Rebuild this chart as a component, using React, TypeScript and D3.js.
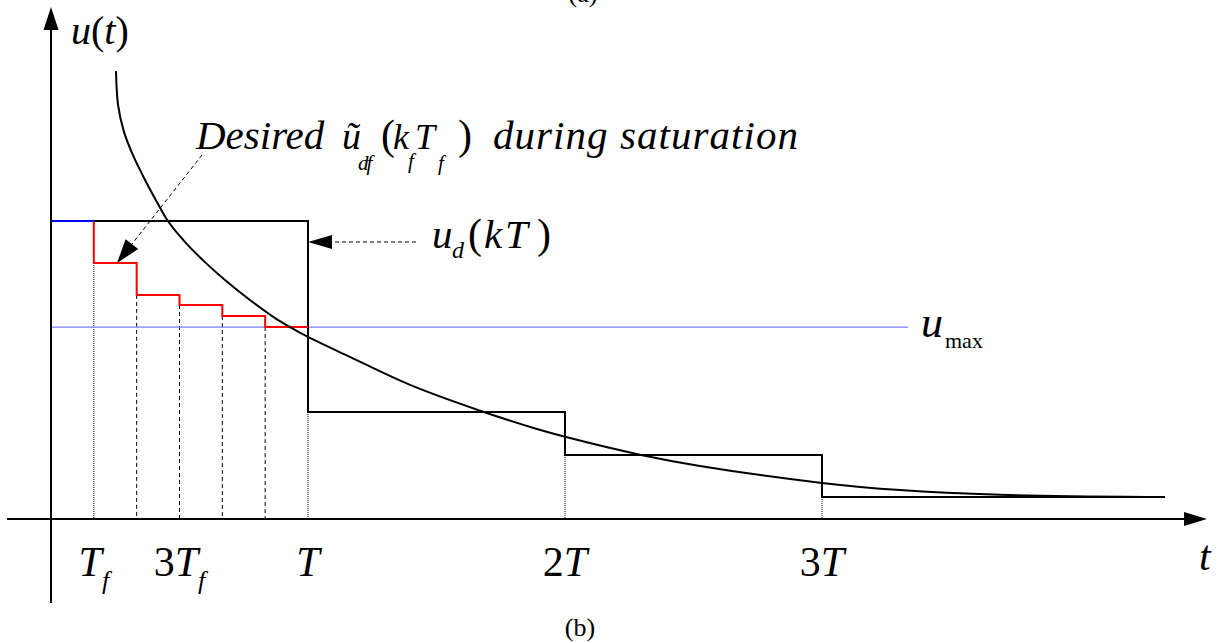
import React from 'react';
import * as d3 from 'd3';

// ---- data (time in units of T, value normalised so that u_d(0) = 1) ----
const curveT = [0.253, 0.261, 0.284, 0.319, 0.370, 0.412, 0.455, 0.521, 0.599, 0.677, 0.774, 0.872, 0.930, 1.000, 1.163, 1.397, 1.661, 1.891, 2.004, 2.296, 2.525, 3.000, 3.304, 3.693, 4.261];
const curveU = [1.503, 1.389, 1.299, 1.221, 1.131, 1.064, 1.000, 0.930, 0.862, 0.802, 0.735, 0.674, 0.644, 0.611, 0.544, 0.450, 0.366, 0.302, 0.275, 0.215, 0.178, 0.121, 0.097, 0.081, 0.074];

const udStarts = [0, 1, 2, 3];
const udLevels = [1.0, 0.359, 0.215, 0.074];
const udEnd = 4.335;

const fineStarts = [1 / 6, 2 / 6, 3 / 6, 4 / 6, 5 / 6];
const fineLevels = [0.859, 0.752, 0.718, 0.681, 0.644];
const fineEnd = 1;
const firstFineLevel = 1.0;

const uMax = 0.644;
const uMaxEnd = 3.335;

const dashedGuides = [2 / 6, 3 / 6, 4 / 6, 5 / 6];
const tickValues = [1 / 6, 3 / 6, 1, 2, 3];
const tickPre = ['', '3', '', '2', '3'];
const tickSub = ['f', 'f', '', '', ''];

const xMax = 4.498;
const yMin = -0.282;
const yMax = 1.718;

const F = 'Liberation Serif';

function T(props: any) {
  const { children, ...rest } = props;
  return <text fontFamily={F} {...rest}>{children}</text>;
}

export default function App() {
  const x = d3.scaleLinear().domain([0, 1]).range([51, 308]);
  const y = d3.scaleLinear().domain([0, 1]).range([519, 221]);

  const line = d3.line<[number, number]>().x(d => x(d[0])).y(d => y(d[1]));

  const udPts: [number, number][] = [];
  udStarts.forEach((s, i) => {
    if (i > 0) udPts.push([s, udLevels[i - 1]]);
    udPts.push([s, udLevels[i]]);
  });
  udPts.push([udEnd, udLevels[udLevels.length - 1]]);

  const finePts: [number, number][] = [[fineStarts[0], firstFineLevel]];
  fineStarts.forEach((s, i) => {
    if (i > 0) finePts.push([s, fineLevels[i - 1]]);
    finePts.push([s, fineLevels[i]]);
  });
  finePts.push([fineEnd, fineLevels[fineLevels.length - 1]]);

  const curvePts: [number, number][] = curveT.map((t, i) => [t, curveU[i]]);
  const curvePath = d3.line<[number, number]>().x(d => x(d[0])).y(d => y(d[1])).curve(d3.curveCatmullRom.alpha(0.5))(curvePts) || '';

  const x0 = x(0), y0 = y(0);
  const xAxisEnd = x(xMax);
  const yAxisTop = y(yMax);

  const tip: [number, number] = [x(0.257), y(fineLevels[0])];
  const tail: [number, number] = [202, 155];
  const dx = tip[0] - tail[0], dy = tip[1] - tail[1];
  const len = Math.hypot(dx, dy);
  const ux = dx / len, uy = dy / len;
  const headL = 24, headW = 8;
  const bx = tip[0] - ux * headL, by = tip[1] - uy * headL;
  const head1 = `M${tip[0]},${tip[1]}L${bx + uy * headW},${by - ux * headW}L${bx - uy * headW},${by + ux * headW}Z`;

  const udArrowY = 242;
  const ix = x(1);

  return (
    <svg width={1218} height={643} style={{ position: 'absolute', left: 0, top: 0, background: '#fff' }} fontFamily={F}>
      <rect width={1218} height={643} fill="#fff" />
      <T x={583} y={2} fontSize={26} textAnchor="middle">(a)</T>

      {/* guides */}
      <line x1={x(fineStarts[0])} x2={x(fineStarts[0])} y1={y(fineLevels[0])} y2={y0} stroke="#000" strokeWidth={1} strokeDasharray="1 1" />
      {dashedGuides.map((t, i) => (
        <line key={i} x1={x(t)} x2={x(t)} y1={y(fineLevels[i + 1])} y2={y0} stroke="#000" strokeWidth={1} strokeDasharray="4 3" />
      ))}
      {udStarts.slice(1).map((t, i) => (
        <line key={'g' + i} x1={x(t)} x2={x(t)} y1={y(udLevels[i + 1])} y2={y0} stroke="#000" strokeWidth={1} strokeDasharray="1 1" />
      ))}

      {/* u_max */}
      <line x1={x0} x2={x(uMaxEnd)} y1={y(uMax)} y2={y(uMax)} stroke="#7a7aff" strokeWidth={1.3} />

      {/* u_d(kT) */}
      <path d={line(udPts) || ''} fill="none" stroke="#000" strokeWidth={2} />
      <path d={line(finePts) || ''} fill="none" stroke="#ff0000" strokeWidth={2} />
      <line x1={x0} x2={x(fineStarts[0])} y1={y(firstFineLevel)} y2={y(firstFineLevel)} stroke="#0000ff" strokeWidth={2} />

      {/* continuous u(t) */}
      <path d={curvePath} fill="none" stroke="#000" strokeWidth={2} />

      {/* axes */}
      <line x1={7} x2={xAxisEnd - 23} y1={y0} y2={y0} stroke="#000" strokeWidth={2} />
      <path d={`M${xAxisEnd},${y0}L${xAxisEnd - 23},${y0 - 7}L${xAxisEnd - 23},${y0 + 7}Z`} fill="#000" />
      <line x1={x0} x2={x0} y1={y(yMin)} y2={yAxisTop + 23} stroke="#000" strokeWidth={2} />
      <path d={`M${x0},${yAxisTop}L${x0 - 7.5},${yAxisTop + 23}L${x0 + 7.5},${yAxisTop + 23}Z`} fill="#000" />

      {/* annotation arrows */}
      <line x1={tail[0]} y1={tail[1]} x2={bx} y2={by} stroke="#000" strokeWidth={1} strokeDasharray="4 3" />
      <path d={head1} fill="#000" />
      <line x1={416} x2={ix + 24} y1={udArrowY} y2={udArrowY} stroke="#000" strokeWidth={1} strokeDasharray="4 3" />
      <path d={`M${ix},${udArrowY}L${ix + 24},${udArrowY - 7}L${ix + 24},${udArrowY + 7}Z`} fill="#000" />

      {/* tick labels */}
      {tickValues.map((t, i) => (
        <T key={i} x={x(t)} y={576} fontSize={42} textAnchor="middle">
          {tickPre[i] ? <tspan>{tickPre[i]}</tspan> : null}
          <tspan fontStyle="italic">T</tspan>
          {tickSub[i] ? <tspan fontStyle="italic" fontSize={26} dy={13}>{tickSub[i]}</tspan> : null}
        </T>
      ))}
      <T x={1199} y={570} fontSize={42} fontStyle="italic">t</T>

      {/* u(t) */}
      <T x={71} y={44} fontSize={40}>
        <tspan fontStyle="italic">u</tspan>
        <tspan>(</tspan>
        <tspan fontStyle="italic">t</tspan>
        <tspan>)</tspan>
      </T>

      {/* Desired annotation */}
      <T x={196} y={149} fontSize={41} fontStyle="italic">Desired</T>
      <T x={342} y={149} fontSize={38} fontStyle="italic">ũ</T>
      <T x={358} y={170} fontSize={21} fontStyle="italic" letterSpacing={-2}>df</T>
      <T x={381} y={149} fontSize={42}>(</T>
      <T x={393} y={149} fontSize={36} fontStyle="italic">k</T>
      <T x={408} y={168} fontSize={21} fontStyle="italic">f</T>
      <T x={415} y={149} fontSize={36} fontStyle="italic">T</T>
      <T x={438} y={170} fontSize={21} fontStyle="italic">f</T>
      <T x={458} y={149} fontSize={42}>)</T>
      <T x={493} y={149} fontSize={41} fontStyle="italic" textLength={305} lengthAdjust="spacing">during saturation</T>

      {/* u_d(kT) */}
      <T x={432} y={248} fontSize={41} fontStyle="italic">u</T>
      <T x={452} y={258} fontSize={24} fontStyle="italic">d</T>
      <T x={468} y={248} fontSize={42}>(</T>
      <T x={484} y={248} fontSize={41} fontStyle="italic">k</T>
      <T x={505} y={248} fontSize={41} fontStyle="italic">T</T>
      <T x={537} y={248} fontSize={42}>)</T>

      {/* u_max */}
      <T x={921} y={337} fontSize={44} fontStyle="italic">u</T>
      <T x={945} y={348} fontSize={22}>max</T>

      {/* (b) */}
      <T x={580} y={636} fontSize={26} textAnchor="middle">(b)</T>
    </svg>
  );
}
